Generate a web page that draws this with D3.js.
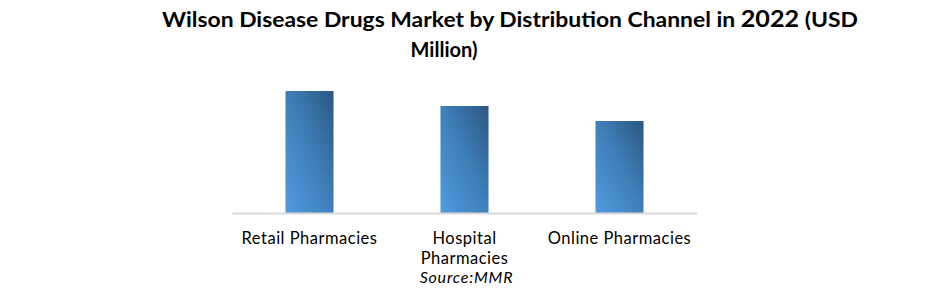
<!DOCTYPE html>
<html>
<head>
<meta charset="utf-8">
<script src="https://cdn.jsdelivr.net/npm/d3@7"></script>
<style>
  body { margin: 0; background: #fff; }
  text { font-family: Lato, sans-serif; }
</style>
</head>
<body>
<div id="chart"></div>
<script>
// Data
const categories = ["Retail Pharmacies", "Hospital Pharmacies", "Online Pharmacies"];
const values = [12.2, 10.7, 9.2];
const source = "Source:MMR";

// Set up dimensions
const W = 941, H = 296;
const margin = { top: 91, right: 244, bottom: 83, left: 232 },
    width = W - margin.left - margin.right,
    height = H - margin.top - margin.bottom;

const svg = d3.select("#chart")
  .append("svg")
    .attr("width", W)
    .attr("height", H);

// gradient for the bars, light bottom-left to dark top-right
const grad = svg.append("defs").append("linearGradient")
  .attr("id", "barGrad")
  .attr("x1", 0).attr("y1", 1)
  .attr("x2", 1).attr("y2", 0);
grad.append("stop").attr("offset", "0%").attr("stop-color", "#519bdf");
grad.append("stop").attr("offset", "50%").attr("stop-color", "#3f80bb");
grad.append("stop").attr("offset", "100%").attr("stop-color", "#2b5780");

// Title
const title = svg.append("text")
  .attr("x", 162)
  .attr("y", 27)
  .attr("font-weight", "bold")
  .attr("font-size", "20px")
  .attr("fill", "#000")
  .attr("textLength", 696)
  .attr("lengthAdjust", "spacingAndGlyphs");
title.append("tspan").text("Wilson Disease Drugs Market by Distribution Channel in ");
title.append("tspan").attr("font-size", "22px").text("2022");
title.append("tspan").text("  (USD");

svg.append("text")
  .attr("x", 444)
  .attr("y", 57)
  .attr("text-anchor", "middle")
  .attr("font-weight", "bold")
  .attr("font-size", "20px")
  .attr("fill", "#000")
  .text("Million)");

const g = svg.append("g")
  .attr("transform", `translate(${margin.left}, ${margin.top})`);

// Scales
const x = d3.scaleBand()
  .domain(categories)
  .range([0, width])
  .paddingInner(0.69)
  .paddingOuter(0.345);

const y = d3.scaleLinear()
  .domain([0, d3.max(values)])
  .range([height, 0]);

// Bars
g.selectAll("rect.bar")
  .data(categories)
  .join("rect")
  .attr("class", "bar")
  .attr("x", d => x(d))
  .attr("width", x.bandwidth())
  .attr("y", (d, i) => y(values[i]))
  .attr("height", (d, i) => height - y(values[i]))
  .attr("fill", "url(#barGrad)");

// X axis
const xAxis = g.append("g")
  .attr("transform", `translate(0, ${height})`)
  .call(d3.axisBottom(x).tickSize(0).tickPadding(0));

xAxis.select(".domain")
  .attr("stroke", "#d9d9d9")
  .attr("stroke-width", 2);

const labelY = 31, lineH = 20;

xAxis.selectAll(".tick text")
  .attr("font-size", "16.5px")
  .attr("letter-spacing", "0.5px")
  .attr("fill", "#000")
  .attr("font-family", "Lato, sans-serif")
  .attr("dy", null)
  .attr("y", labelY)
  .call(wrap, 146);

// wrap long tick labels onto several lines
function wrap(texts, w) {
  texts.each(function() {
    const text = d3.select(this),
        words = text.text().split(/\s+/);
    if (this.getComputedTextLength() <= w) return;
    text.text(null);
    let line = [], lineNo = 0;
    let tspan = text.append("tspan").attr("x", 0).attr("y", labelY);
    words.forEach(word => {
      line.push(word);
      tspan.text(line.join(" "));
      if (tspan.node().getComputedTextLength() > w && line.length > 1) {
        line.pop();
        tspan.text(line.join(" "));
        line = [word];
        lineNo++;
        tspan = text.append("tspan").attr("x", 0).attr("y", labelY + lineNo * lineH).text(word);
      }
    });
  });
}

// Source note
svg.append("text")
  .attr("x", x(categories[1]) + margin.left + x.bandwidth() / 2 + 2)
  .attr("y", 283)
  .attr("text-anchor", "middle")
  .attr("font-style", "italic")
  .attr("font-size", "16px")
  .attr("letter-spacing", "0.8px")
  .attr("fill", "#000")
  .text(source);
</script>
</body>
</html>
